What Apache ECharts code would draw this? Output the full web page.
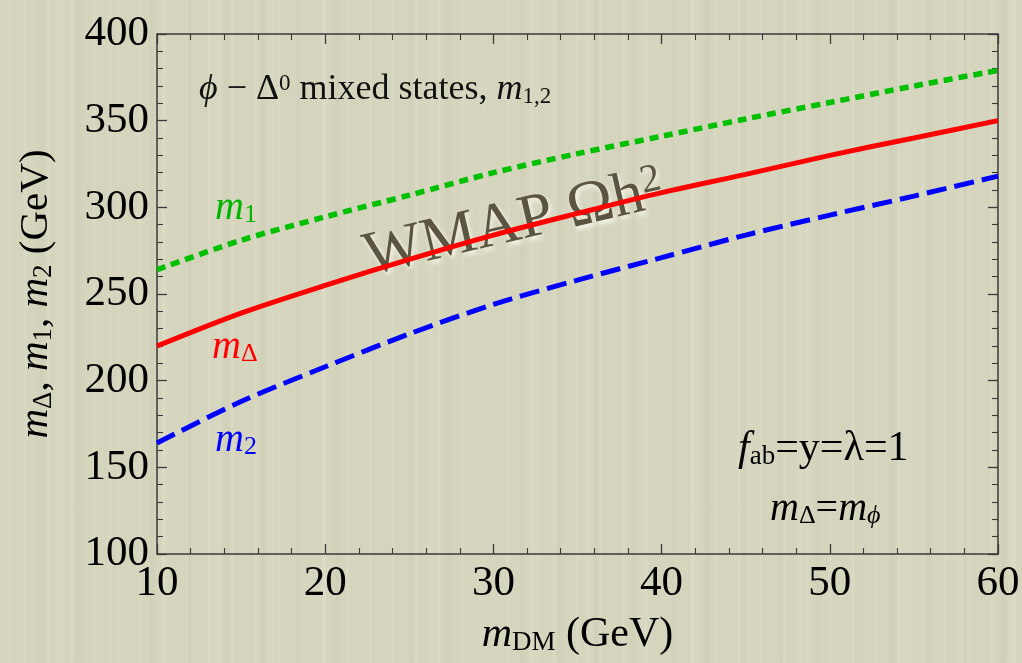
<!DOCTYPE html>
<html>
<head>
<meta charset="utf-8">
<script src="https://cdn.jsdelivr.net/npm/echarts@6/dist/echarts.min.js"></script>
<style>
  html, body { margin: 0; padding: 0; }
  body {
    width: 1022px; height: 663px; overflow: hidden;
    background-color: #d5d4bd;
    background-image:
      repeating-linear-gradient(90deg, rgba(255,255,240,0) 0px, rgba(255,255,240,0.13) 2px, rgba(255,255,240,0) 5px, rgba(255,255,240,0) 23px),
      repeating-linear-gradient(90deg, rgba(110,110,80,0) 0px, rgba(110,110,80,0.045) 4px, rgba(110,110,80,0) 9px, rgba(110,110,80,0) 37px),
      repeating-linear-gradient(90deg, rgba(255,255,245,0) 0px, rgba(255,255,245,0.09) 6px, rgba(255,255,245,0) 12px, rgba(255,255,245,0) 53px);
  }
  #chart { width: 1022px; height: 663px; }
</style>
</head>
<body>
<div id="chart"></div>
<script>
// Dark-matter mass (GeV) along the horizontal axis
const mDM = [10, 15, 20, 25, 30, 35, 40, 45, 50, 55, 60];
// Mass curves (GeV) that give the WMAP relic density
const mDelta = [220, 239, 255, 270, 284, 296.5, 308.5, 319, 330, 340, 350];
const m1 = [264, 281, 294.5, 307, 320, 331, 341, 351, 360.5, 370, 379];
const m2 = [164, 188, 208, 227, 244, 258, 271, 284, 295.5, 306.5, 318];
// Axis ranges and tick spacing
const xRange = [10, 60], xStep = 10;
const yRange = [100, 400], yStep = 50;

const SERIF = '"Liberation Serif", "DejaVu Serif", serif';
const AXIS_COLOR = '#3a3a3a';

const pairs = ys => mDM.map((x, i) => [x, ys[i]]);

function axisCommon(showLabels) {
  return {
    type: 'value',
    axisLine: { show: true, onZero: false, lineStyle: { color: AXIS_COLOR, width: 1.5 } },
    axisTick: { show: true, inside: true, length: 10, lineStyle: { color: AXIS_COLOR, width: 1.3 } },
    minorTick: { show: true, splitNumber: 5, length: 6, lineStyle: { color: AXIS_COLOR, width: 1.1 } },
    splitLine: { show: false },
    minorSplitLine: { show: false },
    axisLabel: {
      show: showLabels, color: '#000', fontFamily: SERIF, fontSize: 43,
      showMinLabel: true, showMaxLabel: true, hideOverlap: false
    }
  };
}

// Rich-text styles: italic math letter, subscript, superscript, roman text
const subRich = (color, size) => {
  const sub = Math.round(size * 0.65);
  const r = {
    i: { fontFamily: SERIF, fontStyle: 'italic', fontSize: size, lineHeight: size },
    s: { fontFamily: SERIF, fontSize: sub, verticalAlign: 'bottom', lineHeight: Math.round(size * 0.42) },
    si: { fontFamily: SERIF, fontStyle: 'italic', fontSize: sub, verticalAlign: 'bottom', lineHeight: Math.round(size * 0.42) },
    sup: { fontFamily: SERIF, fontSize: sub, verticalAlign: 'top', lineHeight: Math.round(size * 0.45) },
    n: { fontFamily: SERIF, fontSize: size, lineHeight: size }
  };
  Object.keys(r).forEach(k => { r[k].color = color; r[k].fill = color; });
  return r;
};

const chart = echarts.init(document.getElementById('chart'), null, { renderer: 'canvas' });

const option = {
  animation: false,
  backgroundColor: 'transparent',
  grid: { left: 157, right: 24, top: 34, bottom: 109, outerBoundsMode: 'none' },
  xAxis: [
    Object.assign(axisCommon(true), {
      position: 'bottom', min: xRange[0], max: xRange[1], interval: xStep,
      name: '{i|m}{s|DM}{n| (GeV)}',
      nameLocation: 'middle', nameGap: 60,
      nameTextStyle: { rich: subRich('#000', 42) }
    }),
    Object.assign(axisCommon(false), {
      position: 'top', min: xRange[0], max: xRange[1], interval: xStep
    })
  ],
  yAxis: [
    Object.assign(axisCommon(true), {
      position: 'left', min: yRange[0], max: yRange[1], interval: yStep,
      name: '{i|m}{s|Δ}{n|, }{i|m}{s|1}{n|, }{i|m}{s|2}{n| (GeV)}',
      nameLocation: 'middle', nameGap: 100,
      nameTextStyle: { rich: subRich('#000', 41) }
    }),
    Object.assign(axisCommon(false), {
      position: 'right', min: yRange[0], max: yRange[1], interval: yStep
    })
  ],
  series: [
    {
      name: 'm1', type: 'line', data: pairs(m1), smooth: 0.3, symbol: 'none',
      lineStyle: { color: '#00c000', width: 5.5, type: [9, 6], cap: 'butt' }
    },
    {
      name: 'mDelta', type: 'line', data: pairs(mDelta), smooth: 0.3, symbol: 'none',
      lineStyle: { color: '#ff0000', width: 5, type: 'solid' }
    },
    {
      name: 'm2', type: 'line', data: pairs(m2), smooth: 0.3, symbol: 'none',
      lineStyle: { color: '#0000ff', width: 5, type: [20, 8], cap: 'butt' }
    }
  ],
  graphic: [
    {
      type: 'text', left: 199, top: 72,
      style: {
        text: '{i|ϕ}{n| − Δ}{sup|0}{n| mixed states, }{i|m}{s|1,2}',
        rich: subRich('#111', 36)
      }
    },
    {
      type: 'text', left: 215, top: 188,
      style: { text: '{i|m}{s|1}', rich: subRich('#00b400', 40) }
    },
    {
      type: 'text', left: 212, top: 327,
      style: { text: '{i|m}{s|Δ}', rich: subRich('#ff0000', 40) }
    },
    {
      type: 'text', left: 215, top: 420,
      style: { text: '{i|m}{s|2}', rich: subRich('#0000ff', 40) }
    },
    {
      type: 'text', left: 738, top: 428,
      style: { text: '{i|f}{s|ab}{n|=y=λ=1}', rich: subRich('#000', 42) }
    },
    {
      type: 'text', left: 770, top: 489,
      style: { text: '{i|m}{s|Δ}{n|=}{i|m}{si|ϕ}', rich: subRich('#000', 40) }
    },
    {
      type: 'text', x: 514, y: 224, rotation: 0.23,
      style: {
        text: '{n|WMAP Ω}{n|h}{sup|2}',
        x: 0, y: 0, align: 'center', verticalAlign: 'middle',
        rich: (function () {
          const r = subRich('#5a5440', 62);
          Object.keys(r).forEach(k => {
            r[k].textShadowColor = 'rgba(255,255,245,0.9)';
            r[k].textShadowBlur = 5;
            r[k].textShadowOffsetX = 2;
            r[k].textShadowOffsetY = 3;
          });
          return r;
        })()
      }
    }
  ]
};

chart.setOption(option);
</script>
</body>
</html>
